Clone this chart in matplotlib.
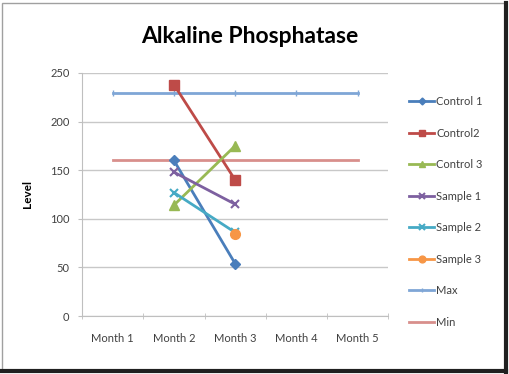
import matplotlib
matplotlib.use("Agg")
import matplotlib.pyplot as plt
import numpy as np
from matplotlib.patches import Rectangle

plt.rcParams["font.family"] = ["Lato", "DejaVu Sans"]

months = ["Month 1", "Month 2", "Month 3", "Month 4", "Month 5"]
control1 = [np.nan, 160, 54, np.nan, np.nan]
control2 = [np.nan, 238, 140, np.nan, np.nan]
control3 = [np.nan, 114, 175, np.nan, np.nan]
sample1 = [np.nan, 148, 115, np.nan, np.nan]
sample2 = [np.nan, 127, 86, np.nan, np.nan]
sample3 = [np.nan, np.nan, 84, np.nan, np.nan]
max_vals = [229, 229, 229, 229, 229]
min_vals = [160, 160, 160, 160, 160]
y_ticks = [0, 50, 100, 150, 200, 250]

fig = plt.figure(figsize=(5.10, 3.74), dpi=100)
fig.patch.set_facecolor("white")
ax = fig.add_axes([0.161, 0.155, 0.600, 0.650])

x = np.arange(1, len(months) + 1)
lw = 2.0
ax.plot(x, control1, color="#4A7EBB", lw=lw, marker="D", ms=5, label="Control 1", zorder=3)
ax.plot(x, control2, color="#BE4B48", lw=lw, marker="s", ms=7, label="Control2", zorder=3)
ax.plot(x, control3, color="#98B954", lw=lw, marker="^", ms=7, label="Control 3", zorder=3)
ax.plot(x, sample1, color="#7D60A0", lw=lw, marker="x", ms=6, mew=1.5, label="Sample 1", zorder=3)
ax.plot(x, sample2, color="#46AAC5", lw=lw, marker="x", ms=6, mew=1.5, label="Sample 2", zorder=3)
ax.plot(x, sample3, color="#F79646", lw=lw, marker="o", ms=7, label="Sample 3", zorder=4)
ax.plot(x, max_vals, color="#7FA6D6", lw=lw, marker="|", ms=5, label="Max", zorder=2)
ax.plot(x, min_vals, color="#D88F8C", lw=lw, label="Min", zorder=2)

ax.set_xlim(0.5, 5.5)
ax.set_ylim(0, 250)
ax.set_yticks(y_ticks)
ax.set_xticks(x)
ax.set_xticklabels(months)
ax.set_xticks(np.arange(0.5, 6.0, 1.0), minor=True)
ax.tick_params(axis="x", which="major", length=0, pad=12, labelsize=8, labelcolor="#404040")
ax.tick_params(axis="x", which="minor", length=4, color="#BFBFBF", direction="inout")
ax.tick_params(axis="y", length=3, color="#BFBFBF", labelsize=8, labelcolor="#404040", pad=6)
ax.yaxis.grid(True, color="#C8C8C8", lw=1.0)
ax.set_axisbelow(True)
for s in ["top", "right"]:
    ax.spines[s].set_visible(False)
for s in ["left", "bottom"]:
    ax.spines[s].set_color("#BFBFBF")

ax.set_ylabel("Level", fontsize=8.5, fontweight="bold", labelpad=12)
fig.text(0.49, 0.903, "Alkaline Phosphatase", ha="center", va="center",
         fontsize=16.5, fontweight="bold", color="black")

fig.legend(loc="upper left", bbox_to_anchor=(0.782, 0.77), frameon=False,
           fontsize=8, labelspacing=1.85, handlelength=2.3, handletextpad=0.15,
           markerscale=0.7, labelcolor="#404040")

# frame
fig.add_artist(Rectangle((0.004, 0.008), 0.986, 0.985, transform=fig.transFigure,
                         fill=False, edgecolor="#A0A0A0", lw=1.0))
fig.add_artist(plt.Line2D([0.992, 0.992], [0.0, 0.993], transform=fig.transFigure,
                          color="#202020", lw=3))
fig.add_artist(plt.Line2D([0.0, 0.993], [0.008, 0.008], transform=fig.transFigure,
                          color="#202020", lw=3))

fig.savefig("out.png", dpi=100)
